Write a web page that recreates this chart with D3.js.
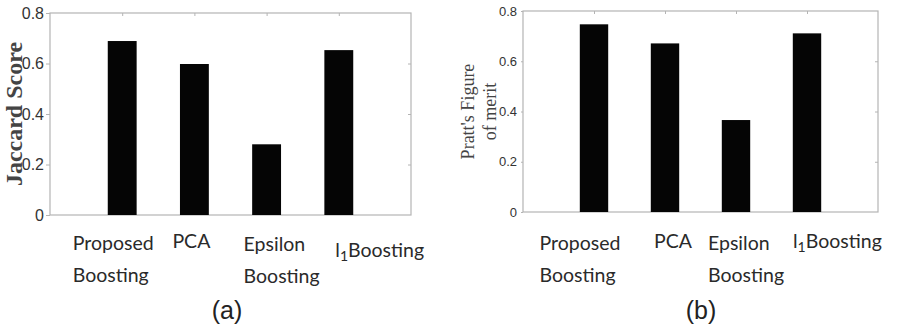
<!DOCTYPE html>
<html>
<head>
<meta charset="utf-8">
<script src="https://cdn.jsdelivr.net/npm/d3@7"></script>
<style>
  body { margin: 0; background: #fff; }
  svg { display: block; }
</style>
</head>
<body>
<svg id="chart" width="900" height="330"></svg>
<script>
// ************************************
// Data
// ************************************
const categories = [
  ["Proposed", "Boosting"],
  ["PCA"],
  ["Epsilon", "Boosting"],
  ["l1Boosting"]
];
const jaccardScores = [0.689, 0.598, 0.28, 0.653];
const prattScores = [0.747, 0.671, 0.366, 0.711];
const yTicks = [0, 0.2, 0.4, 0.6, 0.8];

// ************************************
// Layout
// ************************************
const svg = d3.select("#chart");

const panels = [
  {
    values: jaccardScores, caption: "(a)", captionX: 227,
    left: 50, right: 411, top: 13, bottom: 215,
    tickFont: 16, tickLen: 4, tickGap: 2,
    yTitle: ["Jaccard Score"], yTitleX: 22, yTitleFont: 24, yTitleWeight: "bold", yTitleGap: 0,
    labelDx: [-49.5, -22, -23, -3.5], labelY: [250, 248, 251, 257]
  },
  {
    values: prattScores, caption: "(b)", captionX: 701,
    left: 523, right: 878, top: 11, bottom: 212,
    tickFont: 13, tickLen: 2, tickGap: 4,
    yTitle: ["Pratt's Figure", "of merit"], yTitleX: 485, yTitleFont: 18, yTitleWeight: "normal", yTitleGap: 22,
    labelDx: [-54.5, -11, -28, -14], labelY: [250, 248, 250, 248]
  }
];

const boxColor = "#b4b4b4";

function drawPanel(p) {
  const x = d3.scaleLinear().domain([0, 5]).range([p.left, p.right]);
  const y = d3.scaleLinear().domain([0, 0.8]).range([p.bottom, p.top]);
  const barW = x(0.4) - x(0);

  const g = svg.append("g");

  // box
  g.append("rect")
    .attr("x", p.left).attr("y", p.top)
    .attr("width", p.right - p.left).attr("height", p.bottom - p.top)
    .attr("fill", "none").attr("stroke", boxColor).attr("stroke-width", 1.2);

  // left axis with labels
  const yAxis = g.append("g")
    .attr("transform", `translate(${p.left},0)`)
    .call(d3.axisLeft(y).tickValues(yTicks).tickSize(p.tickLen).tickPadding(p.tickGap)
      .tickFormat(d => d === 0 ? "0" : d3.format(".1f")(d)));
  yAxis.select(".domain").remove();
  yAxis.selectAll("line").attr("stroke", boxColor);
  yAxis.selectAll("text")
    .attr("font-family", "'Liberation Sans', Arial, sans-serif")
    .attr("font-size", p.tickFont)
    .attr("fill", "#333");

  // right inner ticks
  const rAxis = g.append("g")
    .attr("transform", `translate(${p.right},0)`)
    .call(d3.axisLeft(y).tickValues(yTicks.slice(1, -1)).tickSize(3).tickFormat(""));
  rAxis.select(".domain").remove();
  rAxis.selectAll("line").attr("stroke", boxColor);

  // top inner ticks at bar positions
  const tAxis = g.append("g")
    .attr("transform", `translate(0,${p.top})`)
    .call(d3.axisBottom(x).tickValues([1, 2, 3, 4]).tickSize(3).tickFormat(""));
  tAxis.select(".domain").remove();
  tAxis.selectAll("line").attr("stroke", boxColor);

  // bars
  g.selectAll(".bar")
    .data(p.values)
    .enter().append("rect")
    .attr("class", "bar")
    .attr("x", (d, i) => x(i + 1) - barW / 2)
    .attr("y", d => y(d))
    .attr("width", barW)
    .attr("height", d => y(0) - y(d))
    .attr("fill", "#050505");

  // y title
  const yt = g.append("text")
    .attr("transform", `translate(${p.yTitleX},${(p.top + p.bottom) / 2}) rotate(-90)`)
    .attr("text-anchor", "middle")
    .attr("font-family", "'Liberation Serif', 'Times New Roman', serif")
    .attr("font-size", p.yTitleFont)
    .attr("font-weight", p.yTitleWeight)
    .attr("fill", "#444");
  const nLines = p.yTitle.length;
  p.yTitle.forEach((line, i) => {
    yt.append("tspan")
      .attr("x", 0)
      .attr("y", (i - (nLines - 1) / 2) * p.yTitleGap)
      .text(line);
  });

  // category labels
  categories.forEach((lines, i) => {
    const t = g.append("text")
      .attr("x", x(i + 1) + p.labelDx[i])
      .attr("y", p.labelY[i])
      .attr("font-family", "Lato, 'Open Sans', sans-serif")
      .attr("font-size", 19.5)
      .attr("fill", "#2a2a2a");
    lines.forEach((line, j) => {
      const ts = t.append("tspan")
        .attr("x", x(i + 1) + p.labelDx[i])
        .attr("y", p.labelY[i] + j * 32);
      if (line === "l1Boosting") {
        ts.append("tspan").text("l");
        ts.append("tspan").attr("dy", 4).attr("font-size", 14).text("1");
        ts.append("tspan").attr("dy", -4).text("Boosting");
      } else {
        ts.text(line);
      }
    });
  });

  // caption
  svg.append("text")
    .attr("x", p.captionX)
    .attr("y", 319)
    .attr("text-anchor", "middle")
    .attr("font-family", "'Liberation Sans', Arial, sans-serif")
    .attr("font-size", 25)
    .attr("fill", "#222")
    .text(p.caption);
}

panels.forEach(drawPanel);
</script>
</body>
</html>
